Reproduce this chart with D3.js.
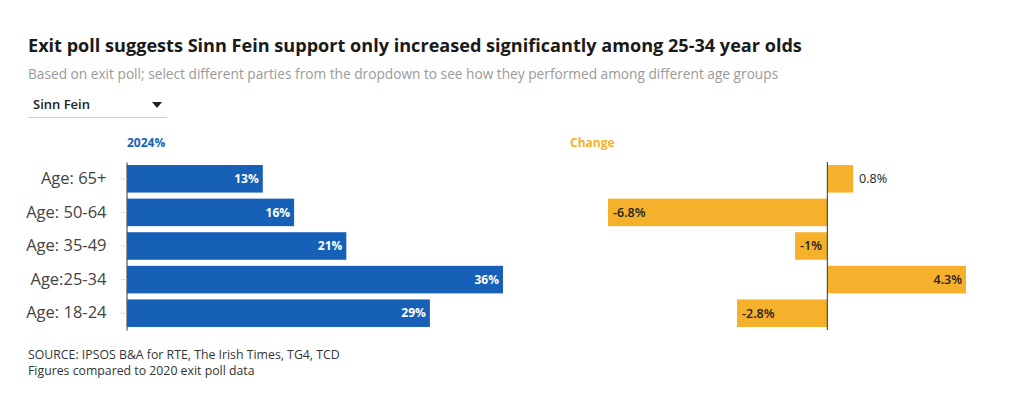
<!DOCTYPE html>
<html><head><meta charset="utf-8">
<script src="https://cdn.jsdelivr.net/npm/d3@7"></script>
<style>
body{margin:0;background:#fff;}
svg{display:block;font-family:"Open Sans","Noto Sans",sans-serif;}
</style></head>
<body>
<svg id="c" width="1020" height="405"></svg>
<script>
const categories = ["Age: 65+", "Age: 50-64", "Age: 35-49", "Age:25-34", "Age: 18-24"];
const share2024 = [13, 16, 21, 36, 29];
const change = [0.8, -6.8, -1, 4.3, -2.8];
const shareLabels = ["13%", "16%", "21%", "36%", "29%"];
const changeLabels = ["0.8%", "-6.8%", "-1%", "4.3%", "-2.8%"];

const svg = d3.select("#c");
const blue = "#1660b8", orange = "#f5b12b";

svg.append("text").attr("x",28).attr("y",52).attr("font-size",18.1).attr("font-weight",700).attr("fill","#1a1a1a")
  .text("Exit poll suggests Sinn Fein support only increased significantly among 25-34 year olds");
svg.append("text").attr("x",28).attr("y",79).attr("font-size",13.7).attr("fill","#9a9a9a")
  .text("Based on exit poll; select different parties from the dropdown to see how they performed among different age groups");

// dropdown
svg.append("text").attr("x",33).attr("y",109).attr("font-size",13).attr("font-weight",600).attr("fill","#222").text("Sinn Fein");
svg.append("path").attr("d","M152,102 L162,102 L157,108 Z").attr("fill","#222");
svg.append("line").attr("x1",28).attr("x2",167).attr("y1",117.5).attr("y2",117.5).attr("stroke","#ccc");

const y = d3.scaleBand().domain(categories).range([162,330]).paddingInner(0.18).paddingOuter(0.09);

// left chart
const x1 = d3.scaleLinear().domain([0,36]).range([127,503]);
svg.append("text").attr("x",127).attr("y",147).attr("font-size",12).attr("font-weight",700).attr("fill",blue).text("2024%");
const yAxis = d3.axisLeft(y).tickSizeInner(6).tickSizeOuter(0).tickPadding(14);
const ga = svg.append("g").attr("transform","translate(126.5,0)").call(yAxis);
ga.select(".domain").attr("stroke","#333");
ga.selectAll(".tick line").attr("stroke","#ddd");
ga.selectAll(".tick text").attr("font-size",16.5).attr("fill","#444").attr("font-family","'Open Sans',sans-serif");

svg.selectAll(".b1").data(share2024).join("rect").attr("class","b1")
  .attr("x",x1(0)).attr("y",(d,i)=>y(categories[i])).attr("width",d=>x1(d)-x1(0)).attr("height",y.bandwidth()).attr("fill",blue);
svg.selectAll(".l1").data(share2024).join("text").attr("class","l1")
  .attr("x",d=>x1(d)-4).attr("y",(d,i)=>y(categories[i])+y.bandwidth()/2).attr("dy","0.35em")
  .attr("text-anchor","end").attr("font-size",12).attr("font-weight",700).attr("fill","#fff").text((d,i)=>shareLabels[i]);

// right chart
const x2 = d3.scaleLinear().domain([-6.8,4.3]).range([608,966]);
svg.append("text").attr("x",570).attr("y",147).attr("font-size",12).attr("font-weight",700).attr("fill",orange).text("Change");
svg.selectAll(".b2").data(change).join("rect").attr("class","b2")
  .attr("x",d=>Math.min(x2(d),x2(0))).attr("y",(d,i)=>y(categories[i]))
  .attr("width",d=>Math.abs(x2(d)-x2(0))).attr("height",y.bandwidth()).attr("fill",orange);
svg.append("line").attr("x1",x2(0)).attr("x2",x2(0)).attr("y1",162).attr("y2",330).attr("stroke","#333");
svg.selectAll(".l2").data(change).join("text").attr("class","l2")
  .attr("x",d=>{ if(d<0) return x2(d)+5; if(x2(d)-x2(0)<50) return x2(d)+6; return x2(d)-4; })
  .attr("text-anchor",d=>(d>0 && x2(d)-x2(0)>=50)?"end":"start")
  .attr("y",(d,i)=>y(categories[i])+y.bandwidth()/2).attr("dy","0.35em")
  .attr("font-size",12.5).attr("font-weight",d=>(d>0 && x2(d)-x2(0)<50)?500:600).attr("fill","#222").text((d,i)=>changeLabels[i]);

// footer
svg.append("text").attr("x",28).attr("y",359).attr("font-size",12.3).attr("fill","#333").text("SOURCE: IPSOS B&A for RTE, The Irish Times, TG4, TCD");
svg.append("text").attr("x",28).attr("y",375).attr("font-size",12.3).attr("fill","#333").text("Figures compared to 2020 exit poll data");
</script>
</body></html>
